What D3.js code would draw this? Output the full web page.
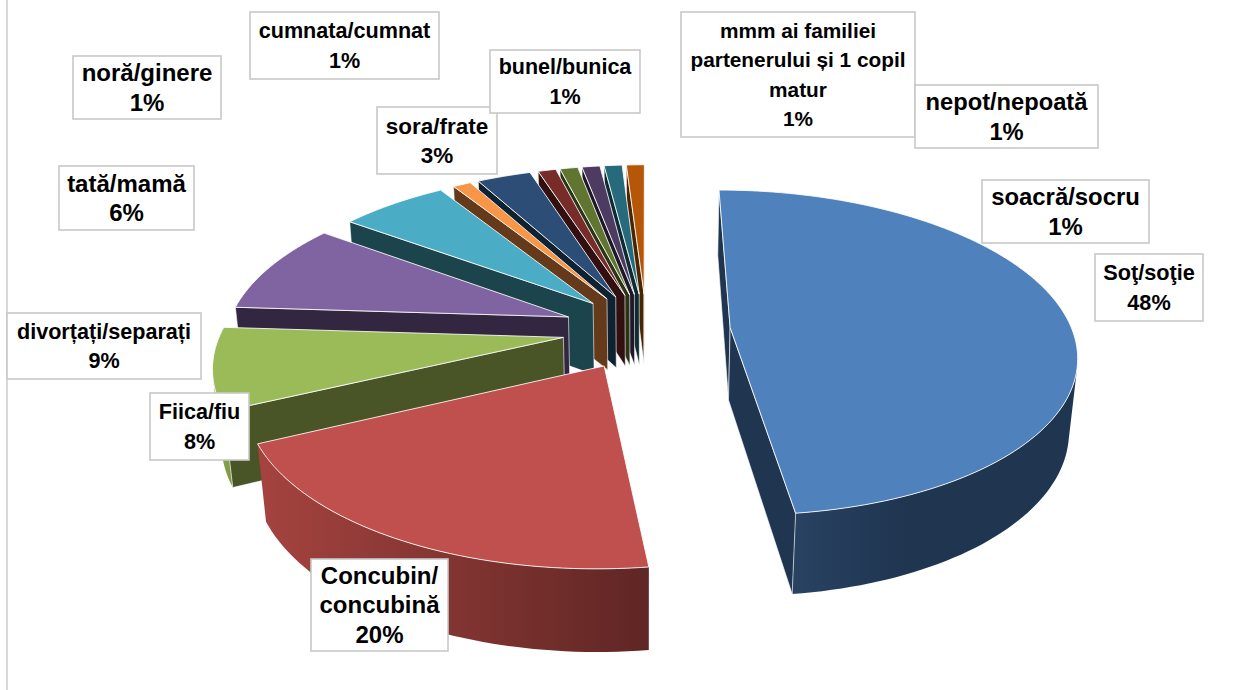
<!DOCTYPE html>
<html><head><meta charset="utf-8">
<style>html,body{margin:0;padding:0;background:#fff}svg{display:block}</style>
<script src="https://cdn.jsdelivr.net/npm/d3@7"></script></head>
<body><svg id="c" width="1245" height="690"></svg>
<script>
const categories=["Soţ/soţie","Concubin/concubină","Fiica/fiu","divorțați/separați","tată/mamă","noră/ginere","sora/frate","cumnata/cumnat","bunel/bunica","mmm ai familiei partenerului și 1 copil matur","nepot/nepoată","soacră/socru"];
const values=[48,20,8,9,6,1,3,1,1,1,1,1];
const topColors=["#4f81bd","#c0504d","#9bbb59","#8064a2","#4bacc6","#f79646","#2c4d75","#772c2a","#5f7530","#4d3b62","#276a7c","#b65708"];
const faceColors=["#1f3550","#1f3550","#4a5527","#332640","#1c444d","#643a1a","#0f2232","#32100f","#2b3515","#1f1829","#0c2b33","#4a2503"];
const rimStart=["#2a4464","#a5433f","#8aa64e","#6b5488","#3f90a6","#d07e3b","#254062","#632523","#4f6228","#403152","#215868","#984807"];
const rimEnd=["#1f3550","#5f2624","#7f9a45","#6b5488","#3f90a6","#d07e3b","#254062","#632523","#4f6228","#403152","#215868","#984807"];
const explosion=[84,85,84,84,80,80,80,80,80,80,80,80];
const labelLines=[["Soţ/soţie","48%"],["Concubin/","concubină","20%"],["Fiica/fiu","8%"],["divorțați/separați","9%"],["tată/mamă","6%"],["noră/ginere","1%"],["sora/frate","3%"],["cumnata/cumnat","1%"],["bunel/bunica","1%"],["mmm ai familiei","partenerului și 1 copil","matur","1%"],["nepot/nepoată","1%"],["soacră/socru","1%"]];
const labelBoxes=[[1095,254,108,67],[311,559,137,92],[150,393,99,67],[7,313,194,66],[59,166,135,64],[73,56,148,63],[377,107,120,67],[250,12,189,67],[490,50,150,63],[681,12,234,125],[915,85,183,63],[982,180,167,63]];
const labelFont=[21.7,24,21.6,21.6,24,24,22.5,21.6,21.5,20.8,23.7,23.9];

const CX=646.5,CY=330,R=342,K=0.466,P=0.00045,DEPTH=74,W=0.02;
const svg=d3.select("#c");
const defs=svg.append("defs");
svg.append("line").attr("x1",7).attr("x2",7).attr("y1",0).attr("y2",690).attr("stroke","#d9d9d9").attr("stroke-width",2);

// perspective mapping from disc coordinates to the page
const project=(u,v,bottom)=>{
  const w=bottom?W:0, s=1/(1-P*v+w);
  return [CX+u*s, CY+(K*v+(bottom?DEPTH:0))*s];
};
const pie=d3.pie().sort(null).value(d=>d).startAngle(0).endAngle(2*Math.PI);
const arcs=pie(values);
const line=d3.line();
const scaleStep=d3.scaleLinear().domain([0,2*Math.PI]).range([0,240]);

arcs.forEach((a,i)=>{a.i=i;
  const mid=(a.startAngle+a.endAngle)/2;
  a.u0=explosion[i]*Math.sin(mid); a.v0=-explosion[i]*Math.cos(mid);
  const n=Math.max(2,Math.ceil(scaleStep(a.endAngle-a.startAngle)));
  a.disc=d3.range(n+1).map(k=>{
    const t=a.startAngle+(a.endAngle-a.startAngle)*k/n;
    return [a.u0+R*Math.sin(t),a.v0-R*Math.cos(t)];
  });
});

arcs.slice().reverse().forEach(a=>{
  const i=a.i,g=svg.append("g").attr("class","slice");
  const apexT=project(a.u0,a.v0,false),apexB=project(a.u0,a.v0,true);
  const rimT=a.disc.map(d=>project(d[0],d[1],false)),rimB=a.disc.map(d=>project(d[0],d[1],true));
  const last=rimT.length-1;
  const xs=rimT.map(p=>p[0]).concat(rimB.map(p=>p[0]));
  const gid="rim"+i;
  const lg=defs.append("linearGradient").attr("id",gid).attr("gradientUnits","userSpaceOnUse")
    .attr("x1",i===0?d3.min(xs)+60:d3.min(xs)).attr("x2",i===0?d3.min(xs)+190:d3.max(xs)).attr("y1",0).attr("y2",0);
  lg.append("stop").attr("offset",0).attr("stop-color",rimStart[i]);
  lg.append("stop").attr("offset",1).attr("stop-color",rimEnd[i]);
  // outer wall: the run of facets turned toward the viewer, painted as one shape
  const front=d3.range(last).filter(k=>d3.polygonArea([rimT[k],rimT[k+1],rimB[k+1],rimB[k]])>0);
  if(front.length){
    const k0=d3.min(front),k1=d3.max(front)+1;
    const t=rimT.slice(k0,k1+1),b=rimB.slice(k0,k1+1).reverse();
    g.append("path").attr("d",line(t.concat(b))+"Z").attr("fill",`url(#${gid})`);
  }
  // radial walls: only the ones turned toward the viewer
  const startWall=[apexT,rimT[0],rimB[0],apexB],endWall=[apexT,rimT[last],rimB[last],apexB];
  if(d3.polygonArea(startWall)>0) g.append("path").attr("d",line(startWall)+"Z").attr("fill",faceColors[i]).attr("stroke","#fff").attr("stroke-width",0.6);
  if(d3.polygonArea(endWall)<0) g.append("path").attr("d",line(endWall)+"Z").attr("fill",faceColors[i]).attr("stroke","#fff").attr("stroke-width",0.6);
  // top face
  g.append("path").attr("d",line([apexT].concat(rimT))+"Z").attr("fill",topColors[i]).attr("stroke","#fff").attr("stroke-width",1).attr("stroke-opacity",0.85);
});

const lab=svg.selectAll("g.lab").data(categories).join("g").attr("class","lab")
  .attr("transform",(d,i)=>`translate(${labelBoxes[i][0]},${labelBoxes[i][1]})`);
lab.append("rect").attr("width",(d,i)=>labelBoxes[i][2]).attr("height",(d,i)=>labelBoxes[i][3])
  .attr("fill","#fff").attr("stroke","#c8c8c8").attr("stroke-width",1.6);
lab.each(function(d,i){
  const n=labelLines[i].length,[,, w,h]=labelBoxes[i],fs=labelFont[i],lh=29.5;
  const t0=h/2-(n-1)*lh/2+fs*0.35;
  d3.select(this).selectAll("text").data(labelLines[i]).join("text")
    .attr("x",w/2).attr("y",(l,k)=>t0+k*lh).attr("text-anchor","middle")
    .attr("font-family","'Liberation Sans',Arial,sans-serif").attr("font-weight","bold")
    .attr("font-size",fs).attr("fill","#000").text(l=>l);
});
</script></body></html>
